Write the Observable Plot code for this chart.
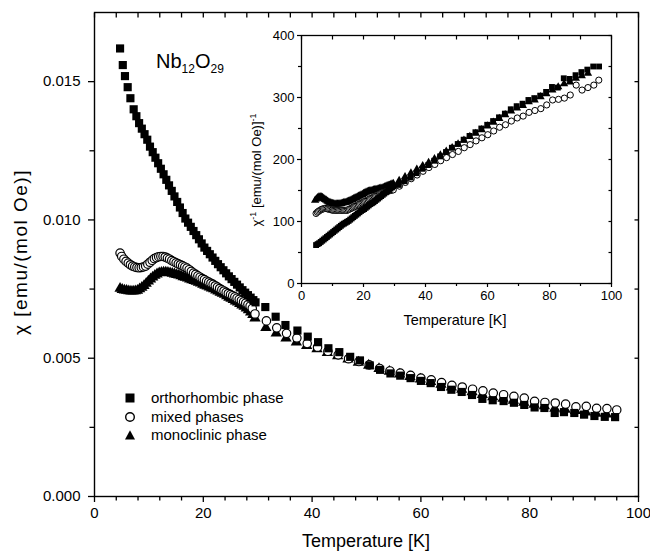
<!DOCTYPE html>
<html><head><meta charset="utf-8">
<script src="https://cdn.jsdelivr.net/npm/d3@7"></script>
<script src="https://cdn.jsdelivr.net/npm/@observablehq/plot@0.6"></script>
<style>
body{margin:0;background:#fff;font-family:"Liberation Sans",Arial,sans-serif;}
#wrap{position:relative;width:650px;height:553px;overflow:hidden;background:#fff;}
#wrap svg{position:absolute;}
.lbl{position:absolute;white-space:nowrap;color:#000;line-height:1;}
</style></head><body><div id="wrap"></div>
<script>
// ---------- MAIN PANEL: chi (units of 1e-3 emu/(mol Oe)) vs T ----------
const orthoT = [4.7,5.2,5.6,6.1,6.6,7.2,7.7,8.2,8.7,9.2,9.7,10.2,10.7,11.2,11.7,12.2,12.7,13.2,13.7,14.2,14.7,15.2,15.7,16.2,16.7,17.2,17.7,18.2,18.7,19.2,19.7,20.2,20.7,21.2,21.7,22.2,22.7,23.2,23.7,24.2,24.7,25.2,25.7,26.2,26.7,27.2,27.7,28.2,28.7,29.2,29.6,
  31.4,33.3,35.1,37.3,39.2,41.1,43.0,45.0,47.0,48.8,50.6,52.5,54.4,56.2,58.1,60.0,61.8,63.7,65.6,67.5,69.4,71.3,73.2,75.2,77.1,79.0,80.9,82.7,84.6,86.3,88.2,90.0,91.9,93.8,95.7];
const orthoChi = [16.2,15.6,15.2,14.8,14.4,14.0,13.75,13.5,13.3,13.1,12.9,12.65,12.45,12.25,12.05,11.85,11.65,11.45,11.25,11.05,10.85,10.65,10.45,10.25,10.05,9.9,9.75,9.6,9.45,9.3,9.15,9.0,8.88,8.76,8.64,8.52,8.4,8.29,8.18,8.07,7.96,7.86,7.76,7.66,7.56,7.46,7.37,7.28,7.19,7.1,7.02,
  6.85,6.5,6.2,6.0,5.78,5.58,5.36,5.22,5.05,4.92,4.74,4.58,4.45,4.37,4.28,4.18,4.1,3.96,3.86,3.78,3.67,3.53,3.48,3.45,3.39,3.31,3.22,3.2,3.02,3.05,3.02,2.96,2.91,2.88,2.87];

const mixedT = [4.7,5.0,5.4,5.8,6.2,6.6,7.0,7.4,7.8,8.2,8.6,9.0,9.4,9.8,10.2,10.6,11.0,11.4,11.8,12.2,12.6,13.0,13.4,13.8,14.2,14.6,15.0,15.4,15.8,16.2,16.6,17.0,17.4,17.8,18.2,18.6,19.0,19.4,19.8,20.2,20.6,21.0,21.4,21.8,22.2,22.6,23.0,23.4,23.8,24.2,24.6,25.0,25.4,25.8,26.2,26.6,27.0,27.4,27.8,28.2,28.6,29.0,29.5,
  31.6,33.5,35.3,37.2,39.1,41.0,42.9,44.8,46.7,48.6,50.5,52.4,54.3,56.2,58.1,60.0,61.9,63.8,65.7,67.6,69.5,71.4,73.3,75.2,77.1,79.0,80.9,82.8,84.7,86.6,88.5,90.4,92.3,94.2,96.0];
const mixedChi = [8.8,8.68,8.58,8.5,8.44,8.38,8.33,8.3,8.28,8.27,8.28,8.3,8.33,8.4,8.47,8.54,8.6,8.64,8.67,8.68,8.68,8.66,8.62,8.58,8.53,8.49,8.45,8.41,8.38,8.34,8.3,8.26,8.2,8.14,8.08,8.03,7.98,7.93,7.88,7.84,7.79,7.75,7.71,7.67,7.62,7.57,7.52,7.47,7.43,7.38,7.34,7.3,7.26,7.22,7.17,7.13,7.08,7.04,6.99,6.94,6.88,6.8,6.6,
  6.35,6.1,5.9,5.73,5.53,5.4,5.25,5.12,4.98,4.88,4.76,4.63,4.54,4.46,4.38,4.28,4.22,4.12,4.02,3.96,3.88,3.82,3.74,3.68,3.62,3.56,3.44,3.4,3.38,3.34,3.24,3.26,3.19,3.18,3.13];

const monoT = [4.7,5.1,5.5,5.9,6.3,6.7,7.1,7.5,7.9,8.3,8.7,9.1,9.5,9.9,10.3,10.7,11.1,11.5,11.9,12.3,12.7,13.1,13.5,13.9,14.3,14.7,15.1,15.5,15.9,16.3,16.7,17.1,17.5,17.9,18.3,18.7,19.1,19.5,19.9,20.3,20.7,21.1,21.5,21.9,22.3,22.7,23.1,23.5,23.9,24.3,24.7,25.1,25.5,25.9,26.3,26.7,27.1,27.5,27.9,28.3,28.7,29.1,29.5,
  31.5,33.4,35.2,37.1,39.0,40.9,42.8,44.7,46.6,48.5,50.4,52.3,54.2,56.1,58.0,59.9,61.8,63.7,65.6,67.5,69.4,71.3,73.2,75.1,77.0,78.9,80.8,82.7,84.6,86.5,88.4,90.3,92.2,94.1];
const monoChi = [7.52,7.48,7.46,7.45,7.43,7.42,7.42,7.43,7.45,7.5,7.56,7.62,7.7,7.78,7.86,7.93,7.99,8.04,8.08,8.1,8.11,8.11,8.1,8.08,8.06,8.04,8.02,8.0,7.97,7.94,7.92,7.89,7.86,7.83,7.8,7.77,7.74,7.71,7.67,7.63,7.6,7.57,7.53,7.5,7.46,7.42,7.38,7.34,7.3,7.25,7.2,7.16,7.11,7.06,7.02,6.97,6.92,6.87,6.81,6.74,6.66,6.57,6.45,
  6.1,5.9,5.72,5.58,5.45,5.33,5.2,5.08,4.96,4.85,4.74,4.62,4.52,4.42,4.33,4.24,4.15,4.05,3.95,3.87,3.78,3.68,3.6,3.54,3.47,3.4,3.33,3.27,3.18,3.15,3.1,3.05,3.0,2.97];

// ---------- INSET: 1/chi vs T ----------
const invOrthoT = [4.7,5.2,5.7,6.2,6.7,7.2,7.7,8.2,8.7,9.2,9.7,10.2,10.7,11.2,11.7,12.2,12.7,13.2,13.7,14.2,14.7,15.2,15.7,16.2,16.7,17.2,17.7,18.2,18.7,19.2,19.7,20.2,20.7,21.2,21.7,22.2,22.7,23.2,23.7,24.2,24.7,25.2,25.7,26.2,26.7,27.2,27.7,28.2,28.7,29.2,29.7,
  31.4,33.3,35.2,37.1,39.0,40.9,42.8,44.7,46.6,48.5,50.4,52.3,54.2,56.1,58.0,59.9,61.8,63.7,65.6,67.5,69.4,71.3,73.2,75.1,77.0,78.9,80.8,82.7,84.6,86.5,88.4,90.3,92.2,94.1,96.0];
const invOrthoV = [62,63.5,65,67,69,71,73,75,77,79,81,83,85,87,89,91,93,95,96.5,98,99.5,101,103,105,107,109,111,113,115,117,118.5,120,122,124,126,128,129.5,131,133,135,137,139,141,143,145,147,149,151,153,155,157,
  159,165,171,178,185,191,198,205,212,219,225,232,238,244,250,256,262,268,274,281,286,290,296,299,303,309,317,316,331,330,336,341,345,350,350];

const invMixedT = [4.7,5.1,5.5,5.9,6.3,6.7,7.1,7.5,7.9,8.3,8.7,9.1,9.5,9.9,10.3,10.7,11.1,11.5,11.9,12.3,12.7,13.1,13.5,13.9,14.3,14.7,15.1,15.5,15.9,16.3,16.7,17.1,17.5,17.9,18.3,18.7,19.1,19.5,19.9,20.3,20.7,21.1,21.5,21.9,22.3,22.7,23.1,23.5,23.9,24.3,24.7,25.1,25.5,25.9,26.3,26.7,27.1,27.5,27.9,28.3,28.7,29.1,29.6,
  31.6,33.5,35.4,37.3,39.2,41.1,43.0,44.9,46.8,48.7,50.6,52.5,54.4,56.3,58.2,60.1,62.0,63.9,65.8,67.7,69.6,71.5,73.4,75.3,77.2,79.1,81.0,82.9,84.8,86.7,88.6,90.5,92.4,94.3,95.9];
const invMixedV = [113,115,116.5,118,119,120,120.5,121,121,120.5,120,119.5,119,118.5,118,118,118,118,118,118,118,118,118,118,118,118,119,120,121,122,123,124,125,126,127,128,129,130,131,132,133,134,135,136,137,138,139,140,141,142,143,144,145,146,146.5,147,148,148.5,149,149.5,150,150.5,151,
  157,163,169,175,181,187,192,198,203,208,213,219,224,230,235,240,246,252,256,262,267,270,276,279,282,288,296,297,299,304,320,312,316,320,328];

const invMonoT = [4.4,4.8,5.2,5.6,6.0,6.4,6.8,7.2,7.6,8.0,8.4,8.8,9.2,9.6,10.0,10.4,10.8,11.2,11.6,12.0,12.4,12.8,13.2,13.6,14.0,14.4,14.8,15.2,15.6,16.0,16.4,16.8,17.2,17.6,18.0,18.4,18.8,19.2,19.6,20.0,20.4,20.8,21.2,21.6,22.0,22.4,22.8,23.2,23.6,24.0,24.4,24.8,25.2,25.6,26.0,26.4,26.8,27.2,27.6,28.0,28.4,28.8,29.2,29.6,
  31.5,33.4,35.3,37.2,39.1,41.0,42.9,44.8,46.7,48.6,50.5,52.4,54.3,56.2,58.1,60.0,61.9,63.8,65.7,67.6,69.5,71.4,73.3,75.2,77.1,79.0,80.9,82.8,84.7,86.6,88.5,90.4,92.4];
const invMonoV = [134,136,138,139.5,140,139.5,138.5,137,135.5,134,132.5,131.5,130.5,129.5,129,128.5,128,128,128,128,128.5,129,129.5,130,130.5,131,131.6,132.5,133.5,134.5,135.5,136.5,137.5,138.5,139.5,140.5,141.5,142.5,143.5,145,146,147,148,148.5,149,149.5,150,150.5,151,151.5,152,152.5,153,153.5,154,154.5,155.5,156.5,157.5,158,158.5,159.5,160.5,161,
  166,172,178,184,190,195,201,207,213,219,225,231,237,242,248,254,260,266,272,278,283,287,293,296,301,306,312,317,322,325,331,335,339];

// tick values
const xMajor = [0,20,40,60,80,100];
const xMinorMain = [4,8,12,16,24,28,32,36,44,48,52,56,64,68,72,76,84,88,92,96];
const yMajorMain = [0,5,10,15];
const yMinorMain = [2.5,7.5,12.5];
const xMinorInset = [10,30,50,70,90];
const yMajorInset = [0,100,200,300,400];
const yMinorInset = [50,150,250,350];

const legendLabels = ["orthorhombic phase","mixed phases","monoclinic phase"];

const toRows = (T, V) => T.map((t, i) => ({T: t, v: V[i]}));
const FONT = "Liberation Sans, Arial, Helvetica, sans-serif";
const wrap = document.getElementById("wrap");

const main = Plot.plot({
  width: 650, height: 553,
  marginLeft: 94, marginRight: 12, marginTop: 12, marginBottom: 57,
  style: {fontFamily: FONT, background: "transparent", overflow: "visible", color: "black"},
  x: {domain: [0, 100]},
  y: {domain: [0, 17.5]},
  marks: [
    Plot.axisX(xMajor, {anchor: "bottom", tickSize: 6, tickPadding: 5, fontSize: 15, strokeWidth: 1.3, label: null}),
    Plot.axisX(xMinorMain, {anchor: "bottom", tickSize: 4.5, text: null, strokeWidth: 1.3, label: null}),
    Plot.axisX(xMajor.concat(xMinorMain), {anchor: "top", tickSize: -4.5, text: null, strokeWidth: 1.3, label: null}),
    Plot.axisY(yMajorMain, {anchor: "left", tickSize: 6, tickPadding: 8, fontSize: 15, strokeWidth: 1.3, label: null, tickFormat: d => (d / 1000).toFixed(3)}),
    Plot.axisY(yMinorMain, {anchor: "left", tickSize: 4.5, text: null, strokeWidth: 1.3, label: null}),
    Plot.axisY(yMajorMain.concat(yMinorMain), {anchor: "right", tickSize: -4.5, text: null, strokeWidth: 1.3, label: null}),
    Plot.frame({stroke: "black", strokeWidth: 1.4}),
    Plot.dot(toRows(monoT, monoChi), {x: "T", y: "v", symbol: "triangle", fill: "black", r: 4.2}),
    Plot.dot(toRows(mixedT, mixedChi), {x: "T", y: "v", symbol: "circle", fill: "white", stroke: "black", strokeWidth: 1.2, r: 4.2}),
    Plot.dot(toRows(orthoT, orthoChi), {x: "T", y: "v", symbol: "square", fill: "black", r: 4.6})
  ]
});
main.style.left = "0px"; main.style.top = "0px";
wrap.appendChild(main);

const inset = Plot.plot({
  width: 390, height: 320,
  marginLeft: 61, marginRight: 19, marginTop: 15, marginBottom: 57,
  style: {fontFamily: FONT, background: "transparent", overflow: "visible", color: "black"},
  x: {domain: [0, 100]},
  y: {domain: [0, 400]},
  marks: [
    Plot.axisX(xMajor, {anchor: "bottom", tickSize: 4, tickPadding: 3, fontSize: 13, strokeWidth: 1.2, label: null}),
    Plot.axisX(xMinorInset, {anchor: "bottom", tickSize: 3, text: null, strokeWidth: 1.2, label: null}),
    Plot.axisX(xMajor.concat(xMinorInset), {anchor: "top", tickSize: -3.5, text: null, strokeWidth: 1.2, label: null}),
    Plot.axisY(yMajorInset, {anchor: "left", tickSize: 4, tickPadding: 3, fontSize: 13, strokeWidth: 1.2, label: null}),
    Plot.axisY(yMinorInset, {anchor: "left", tickSize: 3, text: null, strokeWidth: 1.2, label: null}),
    Plot.axisY(yMajorInset.concat(yMinorInset), {anchor: "right", tickSize: -3.5, text: null, strokeWidth: 1.2, label: null}),
    Plot.frame({stroke: "black", strokeWidth: 1.3}),
    Plot.dot(toRows(invMonoT, invMonoV), {x: "T", y: "v", symbol: "triangle", fill: "black", r: 3.1}),
    Plot.dot(toRows(invMixedT, invMixedV), {x: "T", y: "v", symbol: "circle", fill: "white", stroke: "black", strokeWidth: 1, r: 3.1}),
    Plot.dot(toRows(invOrthoT, invOrthoV), {x: "T", y: "v", symbol: "square", fill: "black", r: 3.3})
  ]
});
inset.style.left = "240px"; inset.style.top = "20px";
wrap.appendChild(inset);

// ---------- text labels ----------
function addLabel(html, css) {
  const d = document.createElement("div");
  d.className = "lbl";
  d.innerHTML = html;
  Object.assign(d.style, css);
  wrap.appendChild(d);
  return d;
}
addLabel("Temperature [K]", {left: "366px", top: "532px", fontSize: "18px", transform: "translateX(-50%)"});
addLabel("&chi; [emu/(mol Oe)]", {left: "20px", top: "252px", fontSize: "19px", letterSpacing: "1.5px", transform: "translate(-50%,-50%) rotate(-90deg)"});
addLabel("Temperature [K]", {left: "455px", top: "313px", fontSize: "14.5px", transform: "translateX(-50%)"});
addLabel("&chi;<sup style='font-size:9px'>-1</sup> [emu/(mol Oe)]<sup style='font-size:9px'>-1</sup>", {left: "256px", top: "170px", fontSize: "13px", transform: "translate(-50%,-50%) rotate(-90deg)"});
addLabel("Nb<sub style='font-size:12px'>12</sub>O<sub style='font-size:12px'>29</sub>", {left: "156px", top: "51px", fontSize: "20px"});

// legend
const legSyms = [
  "<rect x='1.5' y='1.5' width='9' height='9' fill='black'/>",
  "<circle cx='6' cy='6' r='4.3' fill='white' stroke='black' stroke-width='1.4'/>",
  "<path d='M6,1.2L11,10.5L1,10.5Z' fill='black'/>"
];
const legTops = [390, 409, 427];
legendLabels.forEach((t, i) => {
  addLabel("<svg width='12' height='12' style='display:block'>" + legSyms[i] + "</svg>", {left: "124px", top: (legTops[i] + 2) + "px"});
  addLabel(t, {left: "151px", top: legTops[i] + "px", fontSize: "15px"});
});
</script></body></html>
